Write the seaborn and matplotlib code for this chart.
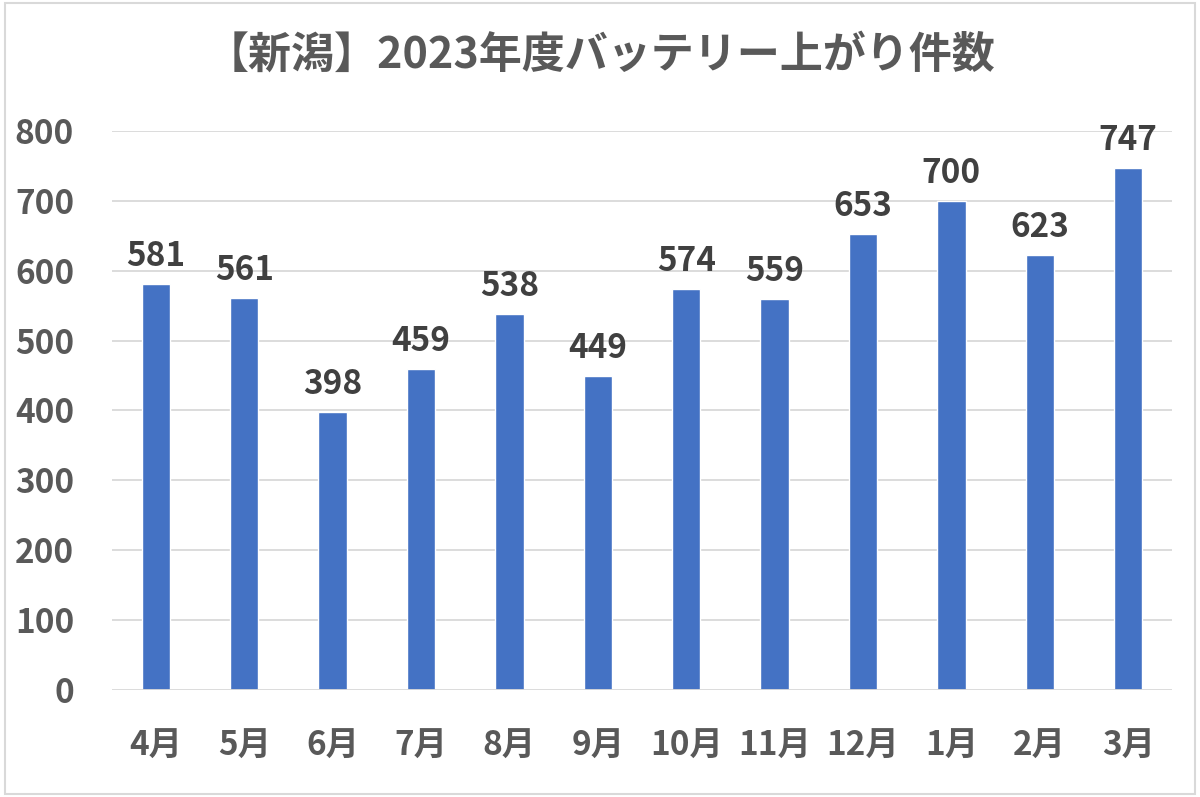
import matplotlib
matplotlib.use("Agg")
import matplotlib.pyplot as plt
import seaborn as sns
import pandas as pd
from matplotlib.patches import Rectangle

months = ["4月", "5月", "6月", "7月", "8月", "9月", "10月", "11月", "12月", "1月", "2月", "3月"]
counts = [581, 561, 398, 459, 538, 449, 574, 559, 653, 700, 623, 747]
yticks = [0, 100, 200, 300, 400, 500, 600, 700, 800]
title = "【新潟】2023年度バッテリー上がり件数"

sns.set_theme(style="white")
plt.rcParams['font.family'] = ['Noto Sans CJK JP', 'DejaVu Sans']

df = pd.DataFrame({"month": months, "count": counts})

fig = plt.figure(figsize=(12, 7.97), dpi=100)
ax = fig.add_axes([0.093, 0.1343, 0.884, 0.7013])

sns.barplot(data=df, x="month", y="count", color="#4472C4", width=0.32,
            saturation=1, ax=ax, zorder=3)

ax.set_ylim(0, 800)
ax.set_xlim(-0.5, len(months) - 0.5)
ax.set_yticks(yticks)
ax.set_yticklabels([str(v) for v in yticks])
for y in yticks[1:]:
    ax.axhline(y, color="#D9D9D9", lw=1.3, zorder=1)
ax.axhline(0, color="#D9D9D9", lw=1.3, zorder=4)
for s in ax.spines.values():
    s.set_visible(False)
ax.set_xlabel("")
ax.set_ylabel("")
ax.tick_params(axis="both", length=0, labelsize=24, labelcolor="#595959")
ax.tick_params(axis="y", pad=27)
ax.tick_params(axis="x", pad=29)
for lab in ax.get_xticklabels() + ax.get_yticklabels():
    lab.set_fontweight("bold")

for c in ax.containers:
    ax.bar_label(c, labels=[str(v) for v in counts], padding=8, fontsize=24,
                 fontweight="bold", color="#404040")

fig.text(0.5, 0.931, title, ha="center", va="center", fontsize=31,
         fontweight="bold", color="#595959")

fig.patches.append(Rectangle((0.004, 0.004), 0.992, 0.992, transform=fig.transFigure,
                             fill=False, edgecolor="#D9D9D9", lw=1.5))

fig.savefig("out.png", dpi=100, facecolor="white")
